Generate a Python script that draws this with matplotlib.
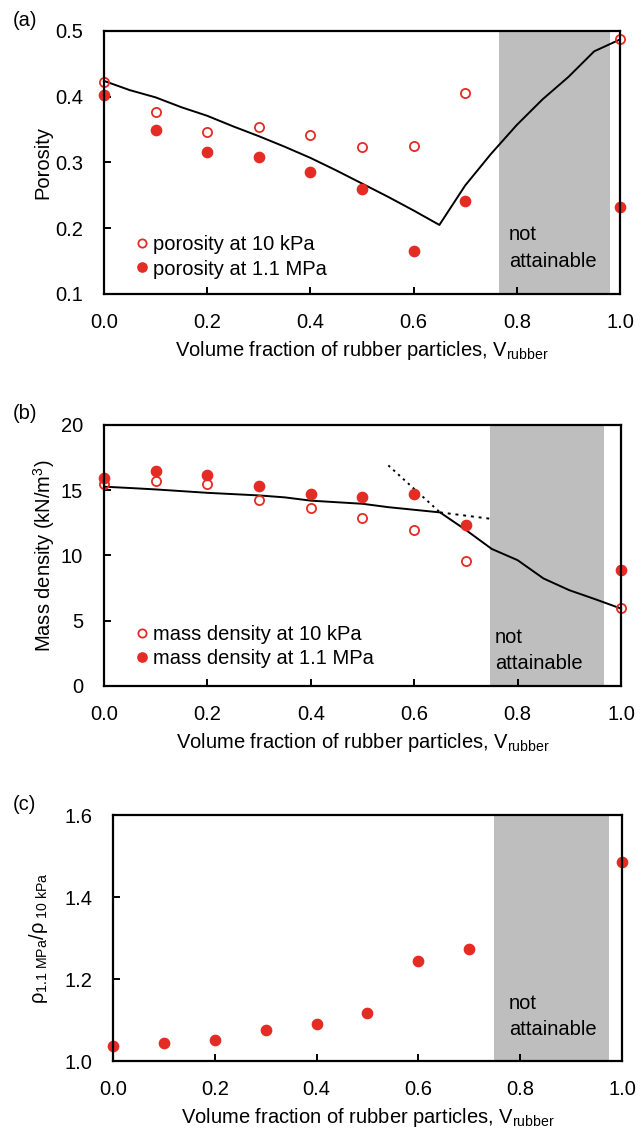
import matplotlib
matplotlib.use("Agg")
import matplotlib.pyplot as plt

plt.rcParams["font.family"] = ["Liberation Sans", "DejaVu Sans"]
plt.rcParams["mathtext.fontset"] = "custom"
plt.rcParams["mathtext.rm"] = "Liberation Sans"
plt.rcParams["mathtext.it"] = "Liberation Sans:italic"
plt.rcParams["font.size"] = 14.5

RED = "#e42b24"
GRAY = "#bebebe"

# measured points
v_pts = [0.0, 0.1, 0.2, 0.3, 0.4, 0.5, 0.6, 0.7, 1.0]
por_10kpa = [0.422, 0.376, 0.347, 0.354, 0.342, 0.323, 0.325, 0.405, 0.487]
por_11mpa = [0.403, 0.350, 0.316, 0.309, 0.285, 0.259, 0.165, 0.242, 0.232]
dens_10kpa = [15.45, 15.7, 15.45, 14.25, 13.6, 12.9, 11.95, 9.6, 6.0]
dens_11mpa = [15.95, 16.45, 16.2, 15.3, 14.7, 14.45, 14.7, 12.3, 8.9]
ratio = [1.036, 1.044, 1.051, 1.075, 1.090, 1.116, 1.243, 1.274, 1.486]

# model curves
v_line = [0.0, 0.05, 0.1, 0.15, 0.2, 0.25, 0.3, 0.35, 0.4, 0.45, 0.5, 0.55,
          0.6, 0.65, 0.7, 0.75, 0.8, 0.85, 0.9, 0.95, 1.0]
por_line = [0.424, 0.410, 0.399, 0.384, 0.371, 0.355, 0.340, 0.324, 0.307,
            0.288, 0.268, 0.248, 0.227, 0.205, 0.265, 0.313, 0.357, 0.396,
            0.430, 0.469, 0.487]
dens_line = [15.27, 15.17, 15.06, 14.93, 14.8, 14.7, 14.6, 14.45, 14.2, 14.08,
             13.96, 13.7, 13.5, 13.3, 11.95, 10.5, 9.64, 8.24, 7.34, 6.65, 5.93]
dot1_v = [0.55, 0.65]
dot1_d = [16.9, 13.3]
dot2_v = [0.65, 0.75]
dot2_d = [13.3, 12.8]

# shaded "not attainable" ranges
gray_a = (0.766, 0.981)
gray_b = (0.747, 0.967)
gray_c = (0.749, 0.974)

xlab = "Volume fraction of rubber particles, V$_{\\rm rubber}$"

fig = plt.figure(figsize=(6.41, 11.29), dpi=100)
ax1 = fig.add_axes([0.1622, 0.7396, 0.8050, 0.2330])
ax2 = fig.add_axes([0.1622, 0.3924, 0.8066, 0.2312])
ax3 = fig.add_axes([0.1763, 0.0602, 0.7940, 0.2179])


def style(ax):
    for s in ax.spines.values():
        s.set_linewidth(1.6)
    ax.tick_params(direction="in", length=5, width=1.4, top=False, right=False)
    ax.tick_params(axis="x", pad=14)
    ax.tick_params(axis="y", pad=15)
    ax.set_xlim(0, 1)
    ax.set_xticks([0, 0.2, 0.4, 0.6, 0.8, 1.0])
    ax.set_xticklabels(["0.0", "0.2", "0.4", "0.6", "0.8", "1.0"])
    ax.set_xlabel(xlab, labelpad=5)


def legend(ax, y):
    ax.legend(loc="upper left", bbox_to_anchor=(0.026, y), frameon=False,
              handletextpad=0.05, handlelength=1.0, labelspacing=0.25,
              borderpad=0.2, markerscale=0.9)


# (a)
ax = ax1
ax.axvspan(*gray_a, color=GRAY, lw=0)
ax.plot(v_line, por_line, color="black", lw=1.4, clip_on=False)
ax.plot(v_pts, por_10kpa, "o", mfc="none", mec=RED, mew=1.3, ms=6.6,
        clip_on=False, label="porosity at 10 kPa")
ax.plot(v_pts, por_11mpa, "o", color=RED, ms=7.4, clip_on=False,
        label="porosity at 1.1 MPa")
ax.set_ylim(0.1, 0.5)
ax.set_yticks([0.1, 0.2, 0.3, 0.4, 0.5])
ax.set_ylabel("Porosity", labelpad=2)
style(ax)
legend(ax, 0.276)
ax.text(0.785, 0.19, "not", va="center")
ax.text(0.785, 0.149, "attainable", va="center")
fig.text(0.02, 0.9814, "(a)", va="center")

# (b)
ax = ax2
ax.axvspan(*gray_b, color=GRAY, lw=0)
ax.plot(v_line, dens_line, color="black", lw=1.4, clip_on=False)
ax.plot(dot1_v, dot1_d, color="black", lw=1.4, ls=(0, (1.2, 2.2)))
ax.plot(dot2_v, dot2_d, color="black", lw=1.4, ls=(0, (1.5, 2.5)))
ax.plot(v_pts, dens_10kpa, "o", mfc="none", mec=RED, mew=1.3, ms=6.6,
        clip_on=False, label="mass density at 10 kPa")
ax.plot(v_pts, dens_11mpa, "o", color=RED, ms=7.4, clip_on=False,
        label="mass density at 1.1 MPa")
ax.set_ylim(0, 20)
ax.set_yticks([0, 5, 10, 15, 20])
ax.set_ylabel("Mass density (kN/m$^3$)", labelpad=3)
style(ax)
legend(ax, 0.287)
ax.text(0.756, 3.75, "not", va="center")
ax.text(0.756, 1.76, "attainable", va="center")
fig.text(0.02, 0.634, "(b)", va="center")

# (c)
ax = ax3
ax.axvspan(*gray_c, color=GRAY, lw=0)
ax.plot(v_pts, ratio, "o", color=RED, ms=7.4, clip_on=False)
ax.set_ylim(1.0, 1.6)
ax.set_yticks([1.0, 1.2, 1.4, 1.6])
ax.set_yticklabels(["1.0", "1.2", "1.4", "1.6"])
ax.set_ylabel("ρ$_{\\rm 1.1\\ MPa}$/ρ$_{\\rm\\ 10\\ kPa}$", labelpad=10)
style(ax)
ax.text(0.778, 1.1415, "not", va="center")
ax.text(0.778, 1.078, "attainable", va="center")
fig.text(0.02, 0.287, "(c)", va="center")

fig.savefig("out.png", dpi=100)
